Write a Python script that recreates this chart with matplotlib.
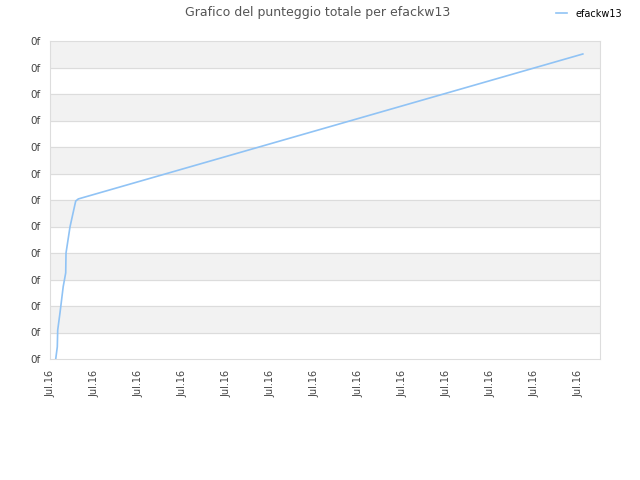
import matplotlib
matplotlib.use('Agg')
import matplotlib.pyplot as plt

# data (x in tick steps, y in grid steps)
x_vals = [0.13, 0.166, 0.175, 0.227, 0.30, 0.357, 0.364, 0.455, 0.584, 0.643, 12.11]
y_vals = [0.0, 0.46, 1.09, 1.74, 2.73, 3.25, 4.0, 4.99, 5.96, 6.04, 11.51]
x_labels = ['Jul.16'] * 13
y_labels = ['0f'] * 13
player = 'efackw13'

fig = plt.figure(figsize=(6.4, 4.8), dpi=100)
ax = fig.add_axes([50 / 640, 1 - 359 / 480, 550 / 640, 318 / 480])

# alternating bands
for i in range(12):
    if i % 2 == 1:
        ax.axhspan(i, i + 1, color='#f2f2f2', zorder=0)
for i in range(1, 12):
    ax.axhline(i, color='#dcdcdc', lw=0.8, zorder=1)

ax.plot(x_vals, y_vals, color='#90c3f5', lw=1.2, zorder=3, label=player)

ax.set_xlim(0, 12.5)
ax.set_ylim(0, 12)
ax.set_xticks(range(13))
ax.set_xticklabels(x_labels, rotation=90, fontsize=7, color='#444444')
ax.set_yticks(range(13))
ax.set_yticklabels(y_labels, fontsize=7.5, color='#444444')
ax.tick_params(axis='x', length=0, pad=8)
ax.tick_params(axis='y', length=0, pad=7)
for s in ax.spines.values():
    s.set_color('#dddddd')

fig.text(0.497, 0.988, 'Grafico del punteggio totale per ' + player, ha='center', va='top',
         fontsize=9, color='#555555')
fig.legend(loc='upper right', bbox_to_anchor=(0.985, 1.0), frameon=False, fontsize=7,
           handlelength=1.2, handletextpad=0.8)

fig.savefig('out.png', dpi=100)
